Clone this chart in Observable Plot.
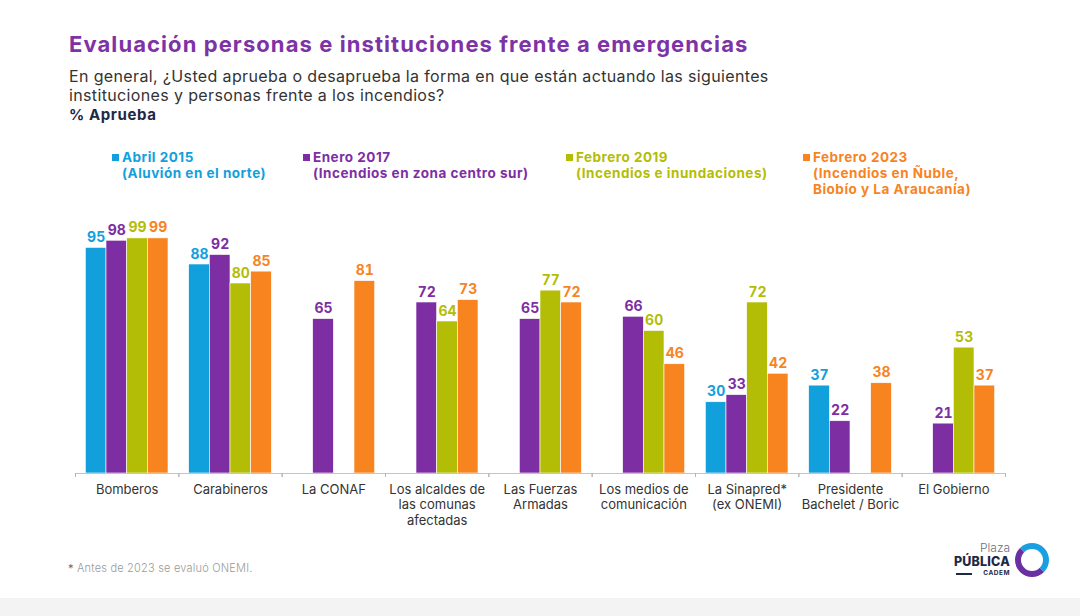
<!DOCTYPE html>
<html>
<head>
<meta charset="utf-8">
<script src="https://cdn.jsdelivr.net/npm/d3@7"></script>
<script src="https://cdn.jsdelivr.net/npm/@observablehq/plot@0.6"></script>
<style>
  html, body { margin: 0; padding: 0; background: #fff; }
  #page { position: relative; width: 1080px; height: 616px; overflow: hidden; font-family: "Inter", "Noto Sans", sans-serif; }
  #title { position: absolute; left: 69px; top: 31px; font-size: 22px; font-weight: 700; color: #7d33a6; letter-spacing: 1.08px; white-space: nowrap; }
  #subtitle { position: absolute; left: 69px; top: 67px; font-size: 16px; line-height: 19px; color: #333; font-weight: 400; letter-spacing: 0.36px; white-space: nowrap; }
  #measure { position: absolute; left: 69px; top: 105px; font-size: 15px; font-weight: 700; color: #1e2945; letter-spacing: 0.6px; }
  .leg { position: absolute; top: 149px; font-size: 13.5px; font-weight: 700; line-height: 16px; letter-spacing: 0.5px; white-space: nowrap; }
  .leg .sw { position: absolute; left: 0; top: 5px; width: 7px; height: 7px; }
  .leg .tx { margin-left: 10px; }
  #chart { position: absolute; left: 0; top: 200px; }
  #foot { position: absolute; left: 68px; top: 561px; font-size: 11px; color: #9a9a9a; font-weight: 300; letter-spacing: 0.2px; }
  #foot b { color: #666; }
  #band { position: absolute; left: 0; top: 598px; width: 1080px; height: 18px; background: #f3f3f3; }
  #logo { position: absolute; left: 952px; top: 541px; width: 100px; height: 40px; }
  #logo div { line-height: 1; }
  #logo .plaza { position: absolute; right: 42px; top: 1px; font-size: 12px; color: #6b6f80; font-weight: 300; }
  #logo .publica { position: absolute; right: 42px; top: 15px; font-size: 12.5px; color: #1e2945; font-weight: 800; letter-spacing: 0.2px; }
  #logo .cadem { position: absolute; right: 42px; top: 29px; font-size: 6.5px; color: #1e2945; font-weight: 700; letter-spacing: 0.5px; }
  #logo .line { position: absolute; left: 4px; top: 32px; width: 16px; height: 1.5px; background: #1e2945; }
  #logo .ring { position: absolute; left: 63px; top: 2px; width: 22px; height: 22px; border-radius: 50%; border: 6px solid #1aa0e0; border-left-color: #6a2fa0; border-bottom-color: #6a2fa0; }
</style>
</head>
<body>
<div id="page">
  <div id="title">Evaluación personas e instituciones frente a emergencias</div>
  <div id="subtitle">En general, ¿Usted aprueba o desaprueba la forma en que están actuando las siguientes<br>instituciones y personas frente a los incendios?</div>
  <div id="measure">% Aprueba</div>
  <div id="legend"></div>
  <div id="chart"></div>
  <div id="foot"><b>*</b> Antes de 2023 se evaluó ONEMI.</div>
  <div id="logo">
    <div class="plaza">Plaza</div>
    <div class="publica">PÚBLICA</div>
    <div class="line"></div>
    <div class="cadem">CADEM</div>
    <div class="ring"></div>
  </div>
  <div id="band"></div>
</div>
<script>
// ---- Data ----
const categories = ["Bomberos", "Carabineros", "La CONAF", "Los alcaldes de las comunas afectadas", "Las Fuerzas Armadas", "Los medios de comunicación", "La Sinapred* (ex ONEMI)", "Presidente Bachelet / Boric", "El Gobierno"];
const tickLabels = ["Bomberos", "Carabineros", "La CONAF", "Los alcaldes de\nlas comunas\nafectadas", "Las Fuerzas\nArmadas", "Los medios de\ncomunicación", "La Sinapred*\n(ex ONEMI)", "Presidente\nBachelet / Boric", "El Gobierno"];
const seriesNames = ["Abril 2015", "Enero 2017", "Febrero 2019", "Febrero 2023"];
const seriesSubtitles = ["(Aluvión en el norte)", "(Incendios en zona centro sur)", "(Incendios e inundaciones)", "(Incendios en Ñuble,\nBiobío y La Araucanía)"];
const abril2015   = [95, 88, null, null, null, null, 30, 37, null];
const enero2017   = [98, 92, 65, 72, 65, 66, 33, 22, 21];
const febrero2019 = [99, 80, null, 64, 77, 60, 72, null, 53];
const febrero2023 = [99, 85, 81, 73, 72, 46, 42, 38, 37];
const seriesColors = ["#12a0dc", "#7d2ea3", "#b4bd05", "#f7841f"];

// ---- Table ----
const seriesValues = [abril2015, enero2017, febrero2019, febrero2023];
const rows = [];
categories.forEach((cat, i) => {
  seriesNames.forEach((s, j) => {
    const v = seriesValues[j][i];
    if (v != null) rows.push({cat, series: s, value: v});
  });
});
const labelOf = new Map(categories.map((c, i) => [c, tickLabels[i]]));

// ---- Legend ----
const legendLeft = [112, 303, 566, 803];
const legend = document.getElementById("legend");
seriesNames.forEach((s, j) => {
  const d = document.createElement("div");
  d.className = "leg";
  d.style.left = legendLeft[j] + "px";
  d.style.color = seriesColors[j];
  d.innerHTML = `<span class="sw" style="background:${seriesColors[j]}"></span><div class="tx">${s}<br>${seriesSubtitles[j].replace("\n", "<br>")}</div>`;
  legend.appendChild(d);
});

// ---- Chart ----
const W = 1080, ML = 75, MR = 75;
const step = (W - ML - MR) / categories.length;
const gap = step * 0.2;

const chart = Plot.plot({
  width: W,
  height: 333,
  marginLeft: ML,
  marginRight: MR,
  marginTop: 35.5,
  marginBottom: 60,
  style: { fontFamily: "Inter, 'Noto Sans', sans-serif", background: "transparent" },
  fx: { domain: categories, paddingInner: 0.2, paddingOuter: 0.1, round: false, label: null },
  x: { domain: seriesNames, padding: 0, round: false, axis: null },
  y: { domain: [0, 100], axis: null },
  color: { domain: seriesNames, range: seriesColors },
  marks: [
    Plot.barY(rows, { fx: "cat", x: "series", y: "value", fill: "series", stroke: "white", strokeWidth: 0.6 }),
    Plot.text(rows, { fx: "cat", x: "series", y: "value", text: "value", fill: "series", dy: -6, lineAnchor: "bottom", fontWeight: 700, fontSize: 14, letterSpacing: 0.3 }),
    Plot.ruleY([0], { stroke: "#c4c4c4", strokeWidth: 1.2, insetLeft: -gap / 2, insetRight: -gap / 2 }),
    Plot.axisFx({ anchor: "bottom", tickSize: 0, tickPadding: 9, tickFormat: d => labelOf.get(d), fontSize: 13, lineHeight: 1.2, fill: "#333", label: null }),
    Plot.axisFx({ anchor: "bottom", tickSize: 4, tickFormat: () => "", dx: -step / 2, stroke: "#b5b5b5", label: null }),
    Plot.axisFx({ anchor: "bottom", tickSize: 4, tickFormat: () => "", dx: step / 2, stroke: "#b5b5b5", label: null })
  ]
});
document.getElementById("chart").appendChild(chart);
</script>
</body>
</html>
